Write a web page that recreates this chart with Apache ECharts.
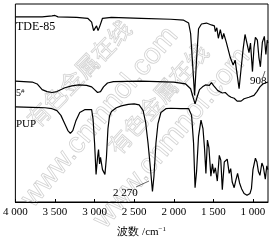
<!DOCTYPE html>
<html><head><meta charset="utf-8">
<script src="https://cdn.jsdelivr.net/npm/echarts@6/dist/echarts.min.js"></script>
<style>html,body{margin:0;padding:0;background:#fff}#c{width:269px;height:243px}</style>
</head><body><div id="c"></div>
<script>
// Wavenumbers (cm^-1) and relative transmittance (arbitrary units, offset curves)
const tdeWn  = [4000,3662,3537,3500,3462,3225,3087,3037,3012,2994,2975,2956,2937,2900,2787,2412,2037,1875,1812,1787,1762,1737,1712,1687,1650,1587,1525,1487,1475,1456,1437,1412,1387,1369,1337,1312,1287,1269,1250,1225,1200,1175,1150,1125,1100,1075,1050,1031,1006,987,969,944,925,906,881,856,837,819,812];
const tdeVal = [194.5,194.5,195.5,196,194.5,194,193,189,180,178,185,180,184,193,194,193,192,191,188,177,145,112,150,182,187,188,186,185,179,183,172,181,171,177,168,170,152,154,144,149,134,119,140,160,176,177,157,167,137,162,173,170,152,142,168,174,155,170,167];

const s5Wn  = [4000,3787,3725,3662,3600,3537,3475,3375,3287,3200,3100,3037,3000,2962,2925,2887,2837,2762,2412,2000,1850,1787,1756,1731,1706,1675,1637,1600,1575,1550,1525,1494,1469,1444,1419,1387,1350,1312,1275,1237,1200,1175,1150,1112,1050,987,950,912,875,812];
const s5Val = [127,126,124,118,116,115,116,120,122,123,122.5,121,118,115,116,121,125,126.5,127,126,124,119,110,103,110,118,121,123,125,122.5,125.5,122,121,117,119,114.5,115,112,110,109,106,104,106,108.5,110,112,116,121,124,126];

const pupWn  = [4000,3787,3625,3537,3475,3425,3375,3337,3306,3275,3237,3187,3125,3037,3019,3000,2981,2962,2950,2937,2925,2900,2869,2850,2831,2812,2787,2725,2662,2575,2500,2437,2387,2356,2325,2294,2269,2250,2225,2200,2162,2100,2037,1912,1812,1775,1750,1731,1712,1687,1656,1631,1612,1594,1575,1556,1531,1512,1494,1475,1450,1425,1406,1387,1362,1344,1325,1300,1281,1262,1237,1219,1194,1169,1144,1112,1075,1037,1019,1000,969,950,931,912,887,869,844,825,812];
const pupVal = [100,99.5,99,98,96,91,82,75,72,75,85,94,97,97,87,62,29,47,55,40,47,34,29,47,77,90,95,99,101,102.5,103,102,96,84,62,35,11,27,62,82,94,98,98.5,98,98,91,62,15,32,69,86,77,57,30,65,57,27,40,30,36,22,49,44,13,42,40,45,30,35,21,15,22,30,20,14,9,7,9,14,34,46,42,32,28,41,37,24,38,34];

const xTicks = [4000,3500,3000,2500,2000,1500,1000];
const curveLabels = ['TDE-85','5','PUP'];
const peakLabels = ['908','2 270'];

const zip = (a,b) => a.map((w,i)=>[w,b[i]]);
const fmt = v => { const s = String(v); return s.length>3 ? s.slice(0,s.length-3)+' '+s.slice(-3) : s; };
const serif = '"Liberation Serif","DejaVu Serif",serif';
const lineStyle = {color:'#000', width:1.2};
const wm = {fill:'rgba(0,0,0,0)', stroke:'#d2d2d2', lineWidth:0.8, align:'center', verticalAlign:'middle'};

const chart = echarts.init(document.getElementById('c'), null, {renderer:'canvas'});
chart.setOption({
  animation:false,
  grid:{left:13, top:4, right:1, bottom:31, show:true, borderColor:'#000', borderWidth:1, backgroundColor:'transparent'},
  xAxis:{type:'value', inverse:true, min:810, max:4000,
    name:'波数 /cm{sup|−1}', nameLocation:'middle', nameGap:24,
    nameTextStyle:{fontFamily:serif, fontSize:11, color:'#000', rich:{sup:{fontSize:7, verticalAlign:'top', padding:[0,0,6,0], fontFamily:serif, color:'#000'}}},
    axisLine:{show:true, lineStyle:{color:'#000', width:1}},
    axisTick:{show:true, inside:true, length:3, customValues:xTicks, lineStyle:{color:'#000'}},
    axisLabel:{customValues:xTicks, formatter:fmt, fontFamily:serif, fontSize:11, color:'#000', margin:5, showMinLabel:true, showMaxLabel:true},
    splitLine:{show:false}},
  yAxis:{type:'value', min:0, max:208, show:false},
  series:[
    {type:'line', data:zip(tdeWn,tdeVal), symbol:'none', lineStyle, silent:true},
    {type:'line', data:zip(s5Wn,s5Val), symbol:'none', lineStyle, silent:true},
    {type:'line', data:zip(pupWn,pupVal), symbol:'none', lineStyle, silent:true}
  ],
  graphic:[
    {type:'text', x:79, y:74, rotation:0.8, z:0, style:Object.assign({text:'有色金属在线', font:'23px "Noto Sans CJK SC"'}, wm)},
    {type:'text', x:158, y:99, rotation:0.85, z:0, style:Object.assign({text:'有色金属在线', font:'23px "Noto Sans CJK SC"'}, wm)},
    {type:'text', x:100, y:117, rotation:0.87, z:0, style:Object.assign({text:'www.cnmnol.com', font:'29px "Liberation Sans"'}, wm)},
    {type:'text', x:172, y:138, rotation:0.87, z:0, style:Object.assign({text:'www.cnmnol.com', font:'29px "Liberation Sans"'}, wm)},
    {type:'text', left:16, top:21, z:10, style:{text:curveLabels[0], font:'12px '+serif, fill:'#000'}},
    {type:'text', left:16, top:88, z:10, style:{text:'{n|'+curveLabels[1]+'}{s|#}', rich:{n:{font:'10px '+serif, fill:'#000'}, s:{font:'7px '+serif, fill:'#000', verticalAlign:'top', padding:[0,0,4,0]}}}},
    {type:'text', left:16, top:119, z:10, style:{text:curveLabels[2], font:'11px '+serif, fill:'#000'}},
    {type:'text', left:250, top:76, z:10, style:{text:peakLabels[0], font:'11px '+serif, fill:'#000'}},
    {type:'line', z:10, shape:{x1:263,y1:77,x2:265,y2:71}, style:{stroke:'#000', lineWidth:0.6}},
    {type:'text', left:113, top:188, z:10, style:{text:peakLabels[1], font:'11px '+serif, fill:'#000'}},
    {type:'line', z:10, shape:{x1:136,y1:187,x2:149,y2:181}, style:{stroke:'#000', lineWidth:0.6}}
  ]
});
</script></body></html>
